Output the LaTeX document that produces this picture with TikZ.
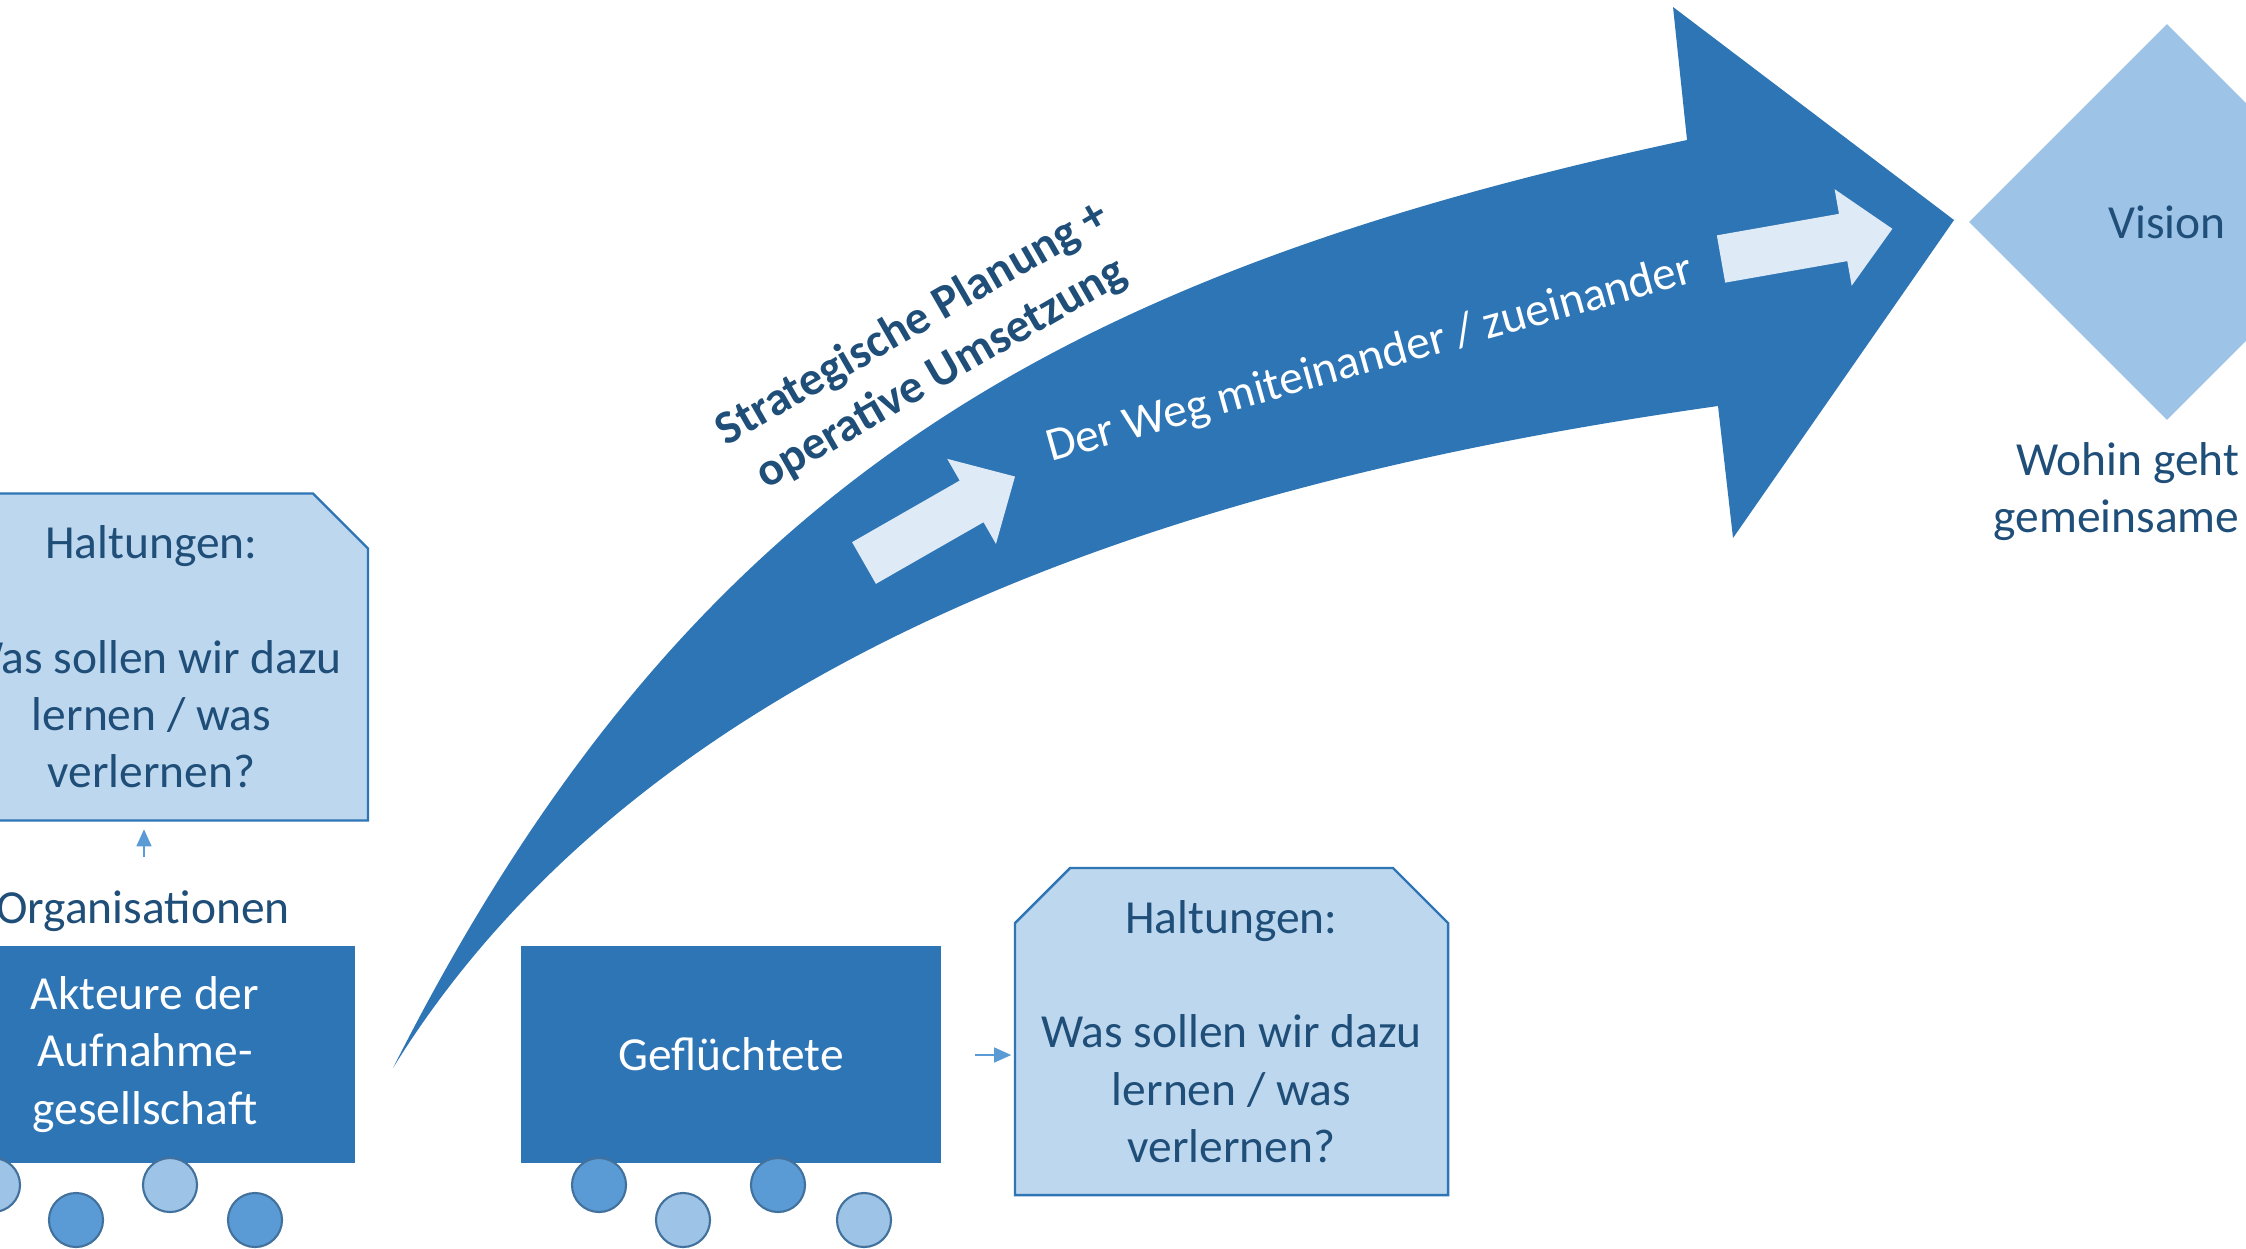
\documentclass[tikz,border=0pt]{standalone}
\usepackage{fontspec}
\setmainfont{Carlito}
\usetikzlibrary{arrows.meta,shapes.geometric}
\definecolor{wegblau}{HTML}{2E75B6}
\definecolor{hellblau}{HTML}{BDD7EE}
\definecolor{pfeilhell}{HTML}{DEEBF7}
\definecolor{visionblau}{HTML}{9DC3E6}
\definecolor{mittelblau}{HTML}{5B9BD5}
\definecolor{randblau}{HTML}{41719C}
\definecolor{textblau}{HTML}{1F4E79}
\newcommand{\schrift}{\fontsize{13.5pt}{16.3pt}\selectfont}
\tikzset{
  haltrand/.style={draw=wegblau,line width=0.7pt,fill=hellblau},
  haltung/.style={text=textblau,minimum width=4.33cm,minimum height=3.27cm,
    align=center,inner sep=0pt},
  akteur/.style={fill=wegblau,text=white,minimum width=4.2cm,minimum height=2.17cm,
    align=center,inner sep=0pt},
  kreis/.style={draw=randblau,line width=0.6pt},
  hinweis/.style={draw=mittelblau,line width=0.45pt,-{Triangle[length=0.17cm,width=0.15cm]}}
}
\begin{document}
\begin{tikzpicture}[x=0.01cm,y=-0.01cm,font=\schrift]
  \path[use as bounding box,clip] (0,0) rectangle (2246,1248);
  % der Weg
  \fill[wegblau] (393,1068) .. controls (685,490) and (1052,276) .. (1687,140)
    -- (1673,7) -- (1954,220) -- (1733,538) -- (1718,406)
    .. controls (1322,462) and (682,600) .. (393,1068) -- cycle;
  \foreach \px/\py/\ang in {864/563/29.8,1721/259/10}
    \fill[pfeilhell,shift={(\px,\py)},rotate=\ang] (0,-24) -- (124,-24) -- (124,-49)
      -- (174,0) -- (124,49) -- (124,24) -- (0,24) -- cycle;
  \node[rotate=15.6,text=white] (weg) at (1370,360) {Der Weg miteinander / zueinander};
  \node[rotate=30,text=textblau,font=\schrift\bfseries,align=center] (strategie)
    at (927,349) {Strategische Planung +\\operative Umsetzung};
  % Vision
  \node[diamond,fill=visionblau,text=textblau,minimum width=3.96cm,minimum height=3.96cm,
    inner sep=0pt] (vision) at (2167,222) {Vision};
  \node[text=textblau,anchor=base east,inner sep=0pt] (wohin) at (2240,475) {Wohin geht};
  \node[text=textblau,anchor=base east,inner sep=0pt] (gemeinsam) at (2240,532) {gemeinsame};
  % Haltungen-Kaesten
  \foreach \hx/\hy in {151.5/657,1231.5/1031.5}
    \filldraw[haltrand,shift={(\hx,\hy)}] (-216.5,163.5) -- (-216.5,-108.5) -- (-161.5,-163.5)
      -- (161.5,-163.5) -- (216.5,-108.5) -- (216.5,163.5) -- cycle;
  % Aufnahmegesellschaft
  \node[haltung] (haltung1) at (151.5,657)
    {Haltungen:\\[16.3pt]Was sollen wir dazu\\lernen / was\\verlernen?};
  \node[text=textblau,anchor=base] (org) at (143,923) {Organisationen};
  \node[akteur] (akteure) at (145,1054.5) {Akteure der\\Aufnahme-\\gesellschaft};
  \coordinate (orgpfeil) at (144,857);
  \draw[hinweis,shorten >=0.08cm] (orgpfeil) -- (orgpfeil |- haltung1.south);
  % Gefluechtete
  \node[akteur] (gefluechtete) at (731,1054.5) {Geflüchtete};
  \node[haltung] (haltung2) at (1231.5,1031.5)
    {Haltungen:\\[16.3pt]Was sollen wir dazu\\lernen / was\\verlernen?};
  \coordinate (geflpfeil) at (975,1055);
  \draw[hinweis,shorten >=0.03cm] (geflpfeil) -- (geflpfeil -| haltung2.west);
  % Personen
  \foreach \cx/\cy/\farbe in {-7/1185/visionblau,76/1220/mittelblau,170/1185/visionblau,
      255/1220/mittelblau,599/1185/mittelblau,683/1220/visionblau,778/1185/mittelblau,
      864/1220/visionblau}
    \draw[kreis,fill=\farbe] (\cx,\cy) circle[radius=0.27cm];
\end{tikzpicture}
\end{document}
